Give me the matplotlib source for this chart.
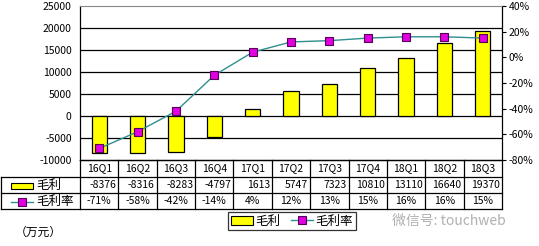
import matplotlib
matplotlib.use("Agg")
import matplotlib.pyplot as plt
from matplotlib.lines import Line2D
from matplotlib.patches import Patch

plt.rcParams['font.family'] = ['Noto Sans CJK SC', 'DejaVu Sans']
plt.rcParams['axes.unicode_minus'] = False

quarters = ["16Q1", "16Q2", "16Q3", "16Q4", "17Q1", "17Q2", "17Q3", "17Q4", "18Q1", "18Q2", "18Q3"]
gross_profit = [-8376, -8316, -8283, -4797, 1613, 5747, 7323, 10810, 13110, 16640, 19370]
gross_margin = [-71, -58, -42, -14, 4, 12, 13, 15, 16, 16, 15]
left_ticks = [-10000, -5000, 0, 5000, 10000, 15000, 20000, 25000]
right_ticks = [-80, -60, -40, -20, 0, 20, 40]

W, H = 539, 246
fig = plt.figure(figsize=(W / 100, H / 100), dpi=100)
x0, x1, ytop, ybot = 80, 502, 6, 160
ax = fig.add_axes([x0 / W, 1 - ybot / H, (x1 - x0) / W, (ybot - ytop) / H])

n = len(quarters)
xs = list(range(n))
ax.set_xlim(-0.5, n - 0.5)
ax.set_ylim(-10000, 25000)
ax.set_yticks(left_ticks)
ax.set_yticklabels([str(v) for v in left_ticks], fontsize=7.5)
ax.tick_params(axis='y', length=0, pad=6)
ax.set_xticks([])
for v in left_ticks[1:-1]:
    ax.axhline(v, color='black', lw=0.9, zorder=0)
ax.spines['top'].set_color('#888888')
for s in ['left', 'right', 'bottom']:
    ax.spines[s].set_linewidth(0.9)

ax.bar(xs, gross_profit, width=0.4, color='#ffff00', edgecolor='black', lw=0.9, zorder=2)

ax2 = ax.twinx()
ax2.set_ylim(-80, 40)
ax2.set_yticks(right_ticks)
ax2.set_yticklabels([f"{v}%" for v in right_ticks], fontsize=7.5)
ax2.tick_params(axis='y', length=3, pad=2)
ax2.set_xlim(-0.5, n - 0.5)
ax2.plot(xs, gross_margin, color='#2f8f8f', lw=1.0, marker='s', markersize=5.5,
         markerfacecolor='#e000e0', markeredgecolor='#550055', markeredgewidth=0.8, zorder=3)
for s in ['left', 'right', 'bottom', 'top']:
    ax2.spines[s].set_visible(False)

# data table under the axes
ftrans = fig.transFigure
def fy(py):
    return 1 - py / H
rows = [160, 177, 193, 209]
lw = 0.9
fig.add_artist(Line2D([x0 / W, x1 / W], [fy(rows[0])] * 2, color='black', lw=lw))
for r in rows[1:]:
    fig.add_artist(Line2D([1 / W, x1 / W], [fy(r)] * 2, color='black', lw=lw))
fig.add_artist(Line2D([1 / W, 1 / W], [fy(rows[1]), fy(rows[3])], color='black', lw=lw))
for i in range(n + 1):
    xx = (x0 + i * (x1 - x0) / n) / W
    fig.add_artist(Line2D([xx, xx], [fy(rows[0]), fy(rows[3])], color='black', lw=lw))

colw = (x1 - x0) / n
for i in range(n):
    cx = (x0 + (i + 0.5) * colw) / W
    rx = (x0 + (i + 1) * colw - 2) / W
    fig.text(cx, fy((rows[0] + rows[1]) / 2), quarters[i], ha='center', va='center', fontsize=7.5)
    fig.text(rx, fy((rows[1] + rows[2]) / 2), str(gross_profit[i]),
             ha='right', va='center', fontsize=7.5)
    fig.text(cx, fy((rows[2] + rows[3]) / 2), f"{gross_margin[i]}%",
             ha='center', va='center', fontsize=7.5)

# row labels with legend keys
fig.add_artist(plt.Rectangle((11 / W, fy(rows[1] + 12)), 22 / W, 6 / H, transform=ftrans,
                             facecolor='#ffff00', edgecolor='black', lw=0.8))
fig.text(36 / W, fy((rows[1] + rows[2]) / 2), "毛利", ha='left', va='center', fontsize=9)
fig.add_artist(Line2D([11 / W, 33 / W], [fy(rows[2] + 9)] * 2, color='#2f8f8f', lw=1.0))
fig.add_artist(Line2D([22 / W], [fy(rows[2] + 9)], marker='s', markersize=5.5,
                      markerfacecolor='#e000e0', markeredgecolor='#550055', markeredgewidth=0.8))
fig.text(36 / W, fy((rows[2] + rows[3]) / 2), "毛利率", ha='left', va='center', fontsize=9)

# legend
handles = [Patch(facecolor='#ffff00', edgecolor='black', lw=0.8),
           Line2D([], [], color='#2f8f8f', lw=1.0, marker='s', markersize=5.5,
                  markerfacecolor='#e000e0', markeredgecolor='#550055', markeredgewidth=0.8)]
leg = fig.legend(handles, ["毛利", "毛利率"], loc='center', bbox_to_anchor=(292 / W, fy(221)),
                 ncol=2, fontsize=9, frameon=True, fancybox=False, handlelength=1.8,
                 handletextpad=0.2, columnspacing=0.8, borderpad=0.2, borderaxespad=0)
leg.get_frame().set_edgecolor('black')
leg.get_frame().set_linewidth(0.9)

fig.text(15 / W, fy(232), "（万元）", ha='left', va='center', fontsize=8.5)
fig.text(392 / W, fy(221), "微信号: touchweb", ha='left', va='center', fontsize=10, color='#b0b0b0')

fig.savefig("out.png", dpi=100)
